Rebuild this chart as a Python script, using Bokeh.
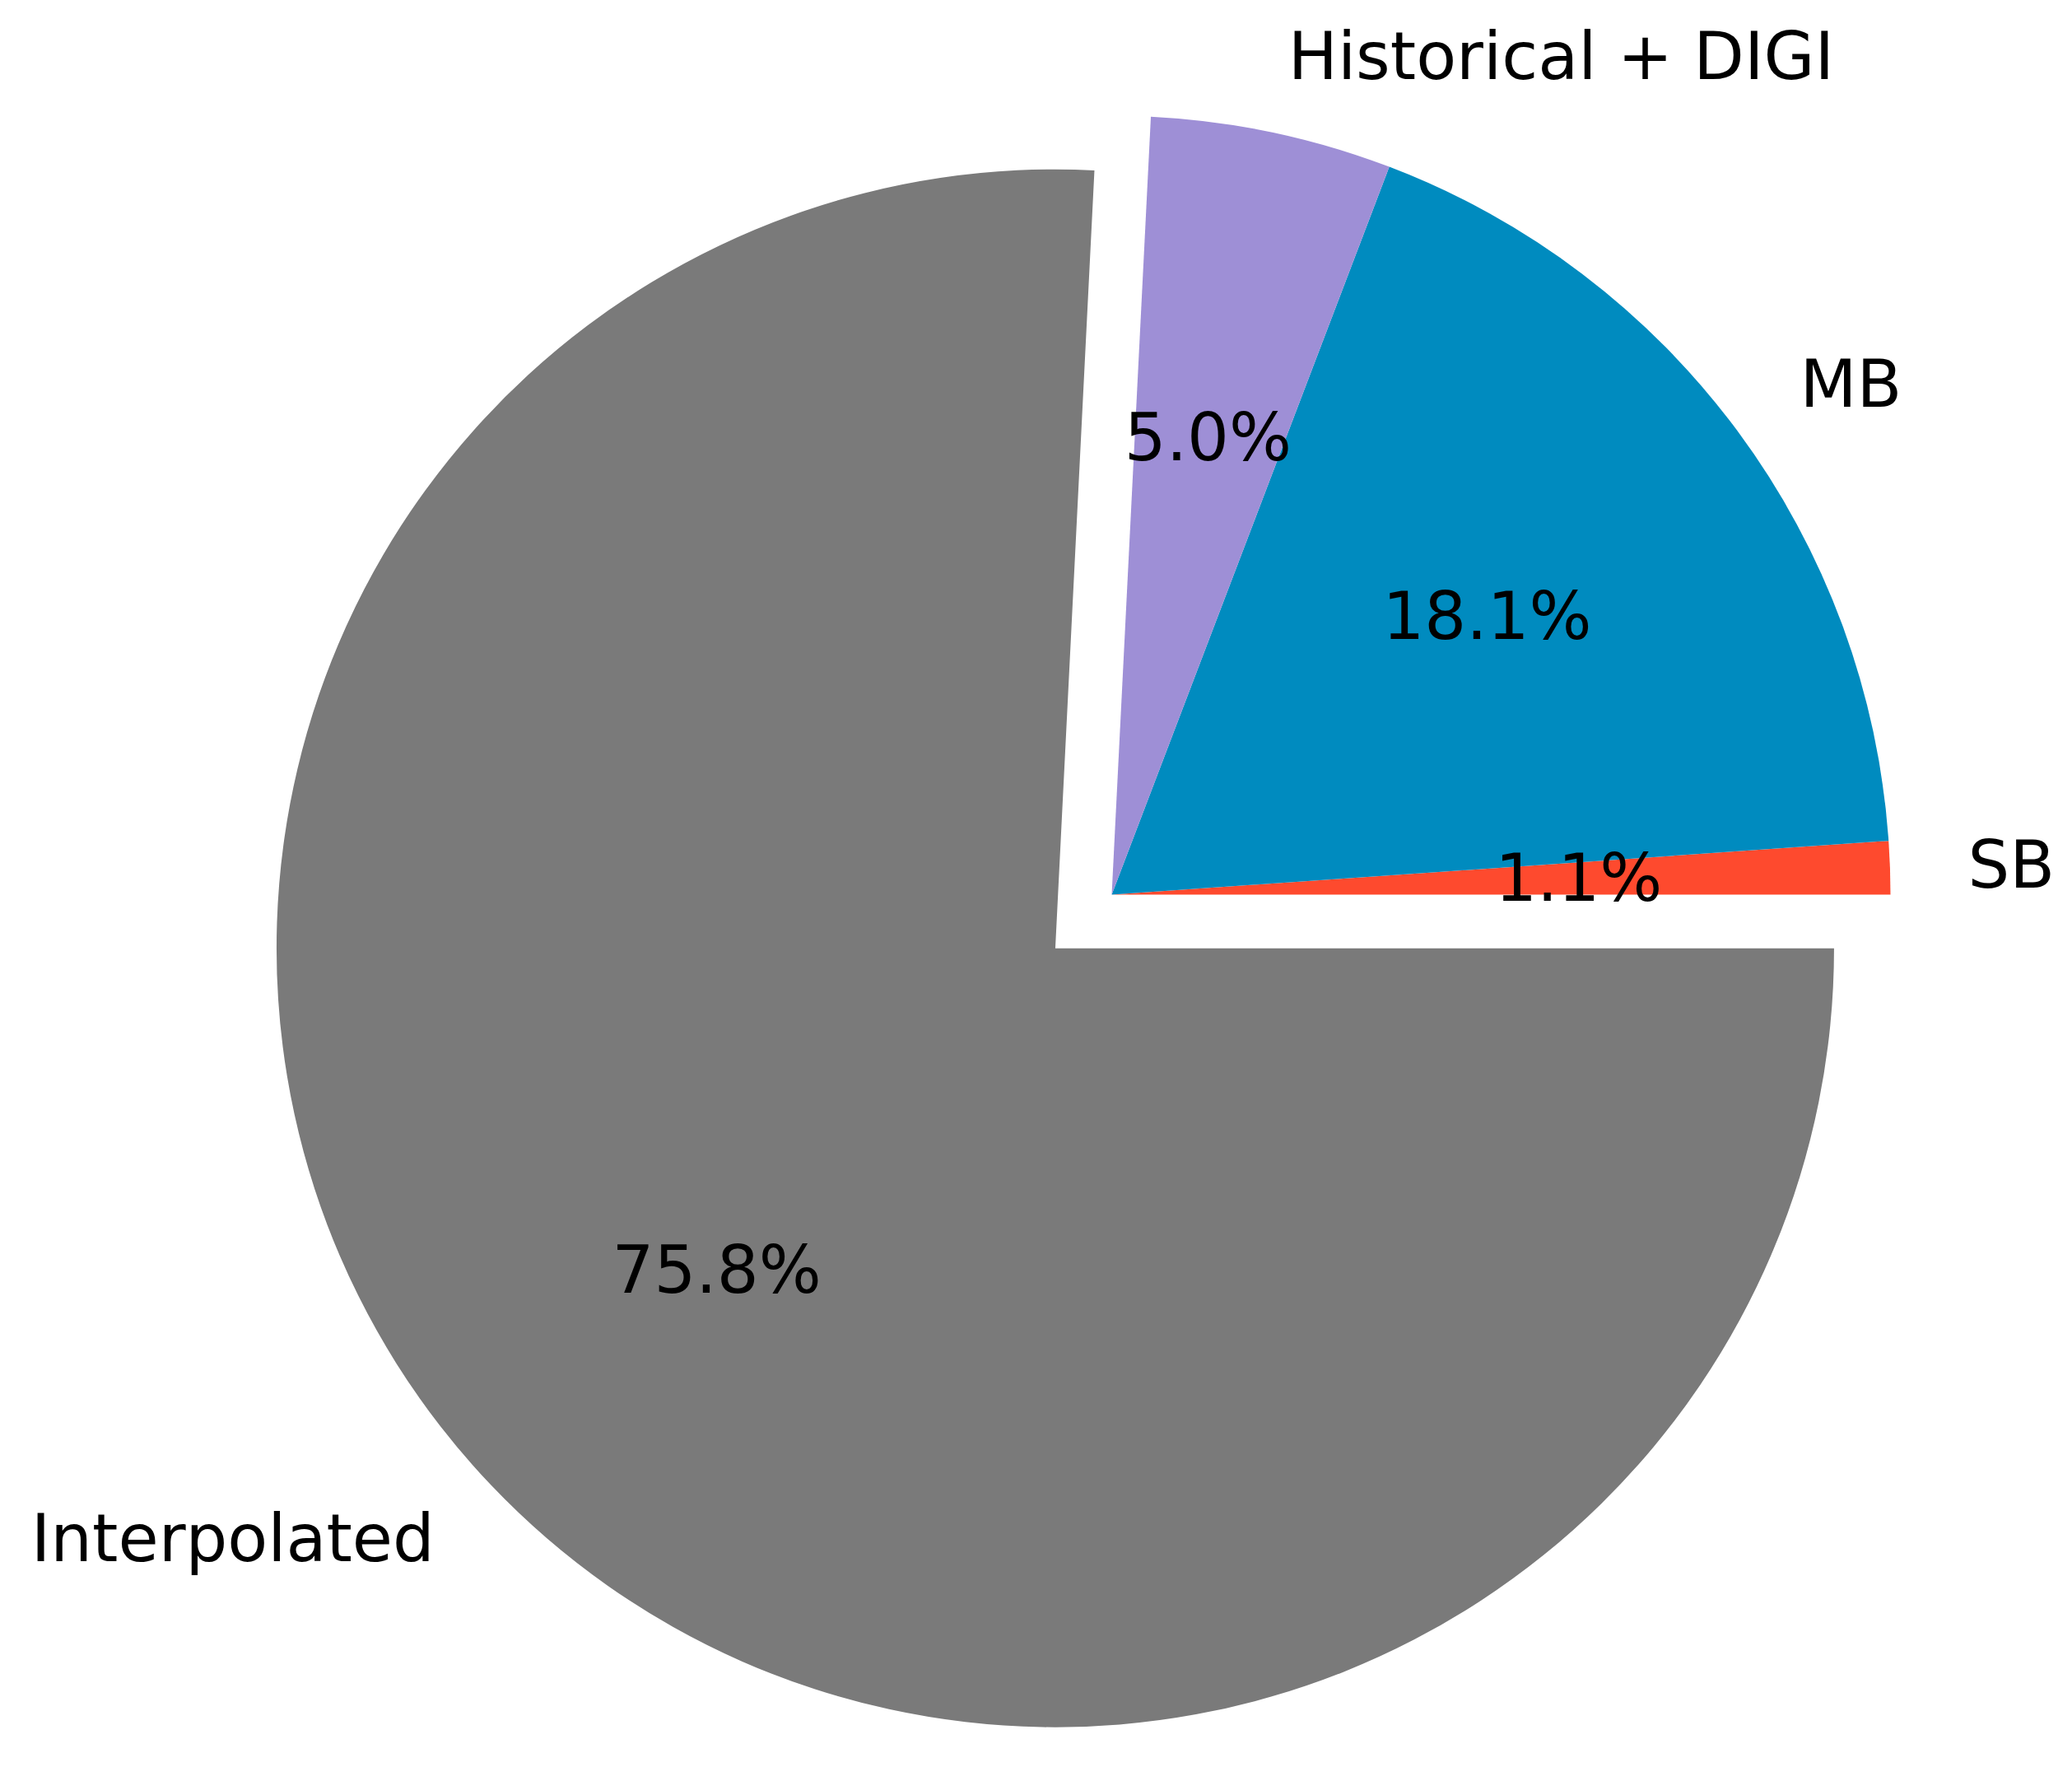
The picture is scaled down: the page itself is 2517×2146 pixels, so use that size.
import numpy as np
from bokeh.plotting import figure
from bokeh.models import Range1d, ColumnDataSource
from bokeh.core.properties import value
from bokeh.embed import file_html
from bokeh.resources import INLINE

# ---- data ----
labels = ["SB", "MB", "Historical + DIGI", "Interpolated"]
shares = [1.1, 18.1, 5.0, 75.8]
explode = [0.0, 0.0, 0.0, 0.1]
colors = ["#fe4a2e", "#008bbf", "#9e8fd6", "#7a7a7a"]

# ---- geometry (matplotlib pie semantics: start 0 deg, counter-clockwise) ----
vals = np.array(shares, dtype=float)
frac = vals / vals.sum()
ends = np.cumsum(frac) * 2 * np.pi
starts = ends - frac * 2 * np.pi
mids = (starts + ends) / 2
cx = np.array(explode) * np.cos(mids)
cy = np.array(explode) * np.sin(mids)

W, H = 2501, 2130
PX = 946.0            # pixels per unit radius
CX, CY = 1358.0, 1094.0  # screen position of pie centre
x0 = (8 - CX) / PX
x1 = (8 + W - CX) / PX
y1 = (CY - 8) / PX
y0 = (CY - 8 - H) / PX

p = figure(width=W, height=H, output_backend="svg", toolbar_location=None,
           x_range=Range1d(x0, x1), y_range=Range1d(y0, y1),
           x_axis_type=None, y_axis_type=None, min_border=0)
p.grid.visible = False
p.outline_line_color = None
p.background_fill_color = "white"
p.border_fill_color = "white"

src = ColumnDataSource(dict(x=cx, y=cy, start=starts, end=ends, color=colors))
p.wedge(x="x", y="y", radius=1.0, start_angle="start", end_angle="end",
        direction="anticlock", fill_color="color", line_color=None, source=src)

# outer labels
lx = cx + 1.1 * np.cos(mids)
ly = cy + 1.1 * np.sin(mids)
align = ["left" if v > 0 else "right" for v in lx]
lsrc = ColumnDataSource(dict(x=lx, y=ly, t=labels, a=align))
p.text(x="x", y="y", text="t", text_align="a", text_baseline="middle",
       text_font=value("DejaVu Sans"), text_font_size="80px", text_color="#000000",
       source=lsrc)

# percentage labels
px_ = cx + 0.6 * np.cos(mids)
py_ = cy + 0.6 * np.sin(mids)
pct = ["%.1f%%" % v for v in vals]
psrc = ColumnDataSource(dict(x=px_, y=py_, t=pct))
p.text(x="x", y="y", text="t", text_align="center", text_baseline="middle",
       text_font=value("DejaVu Sans"), text_font_size="80px", text_color="#000000",
       source=psrc)

open("out.html", "w").write(file_html(p, INLINE))
